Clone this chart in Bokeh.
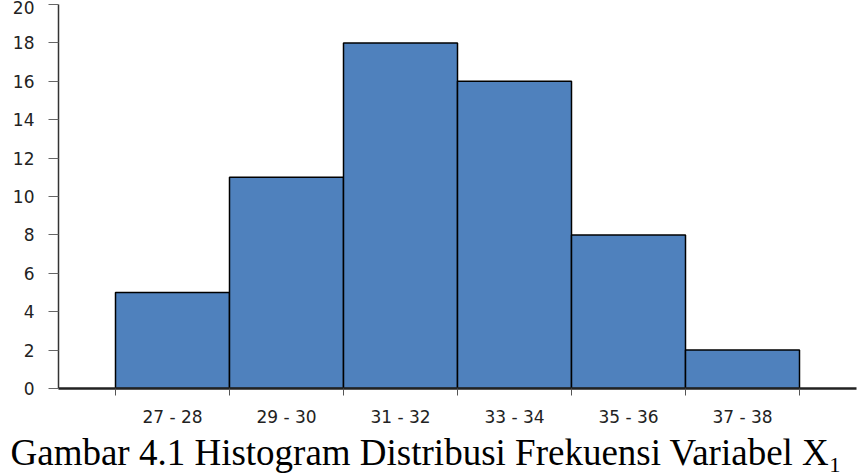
from bokeh.plotting import figure
from bokeh.models import Range1d, FixedTicker, Title
from bokeh.embed import file_html
from bokeh.resources import INLINE

categories = ["27 - 28", "29 - 30", "31 - 32", "33 - 34", "35 - 36", "37 - 38"]
frequencies = [5, 11, 18, 16, 8, 2]
y_ticks = [0, 2, 4, 6, 8, 10, 12, 14, 16, 18, 20]
caption = "Gambar 4.1 Histogram Distribusi Frekuensi Variabel X\u2081"

positions = list(range(1, len(categories) + 1))
boundaries = [p - 0.5 for p in positions] + [positions[-1] + 0.5]

p = figure(width=860, height=474, output_backend="svg", toolbar_location=None,
           x_range=Range1d(0, len(categories) + 1), y_range=Range1d(0, 20),
           min_border_left=58, min_border_right=4, min_border_top=4,
           min_border_bottom=86)
p.outline_line_color = None
p.grid.visible = False
p.background_fill_color = "white"
p.border_fill_color = "white"

p.vbar(x=positions, top=frequencies, width=1.0, fill_color="#4F81BD",
       line_color="black", line_width=1.5)

# x axis
p.xaxis.ticker = FixedTicker(ticks=positions, minor_ticks=boundaries)
p.xaxis.major_label_overrides = {pos: lab for pos, lab in zip(positions, categories)}
p.xaxis.major_tick_out = 0
p.xaxis.major_tick_in = 0
p.xaxis.minor_tick_out = 7
p.xaxis.minor_tick_in = 0
p.xaxis.minor_tick_line_color = "#555555"
p.xaxis.axis_line_color = "#222222"
p.xaxis.axis_line_width = 2.5
p.xaxis.major_label_text_font = "DejaVu Sans"
p.xaxis.major_label_text_font_size = "17px"
p.xaxis.major_label_text_color = "#222222"
p.xaxis.major_label_standoff = 11

# y axis
p.yaxis.ticker = FixedTicker(ticks=y_ticks)
p.yaxis.major_tick_out = 10
p.yaxis.major_tick_in = 0
p.yaxis.minor_tick_out = 0
p.yaxis.minor_tick_in = 0
p.yaxis.major_tick_line_color = "#666666"
p.yaxis.axis_line_color = "#333333"
p.yaxis.axis_line_width = 1.5
p.yaxis.major_label_text_font = "DejaVu Sans"
p.yaxis.major_label_text_font_size = "17px"
p.yaxis.major_label_text_color = "#222222"
p.yaxis.major_label_standoff = 14

t = Title(text=caption, text_font="Liberation Serif", text_font_size="37px",
          text_font_style="normal", text_color="black", align="left",
          offset=-48, standoff=0)
p.add_layout(t, "below")

open("out.html", "w").write(file_html(p, INLINE))
